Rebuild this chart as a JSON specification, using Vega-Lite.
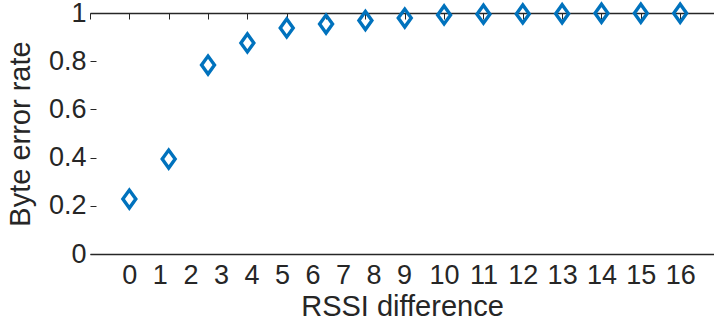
{
  "$schema": "https://vega.github.io/schema/vega-lite/v6.json",
  "autosize": {"type": "none"},
  "padding": {"left": 90, "top": 13, "right": 0, "bottom": 68},
  "width": 624,
  "height": 241,
  "background": "white",
  "config": {
    "view": {"stroke": null},
    "axis": {"grid": false, "labelFont": "Liberation Sans", "titleFont": "Liberation Sans", "labelColor": "#262626", "titleColor": "#262626", "domainColor": "#262626", "tickColor": "#262626", "titleFontWeight": "normal", "labelFontSize": 27, "titleFontSize": 29}
  },
  "data": {"values": [
    {"rssi": 1, "ber": 0.228},
    {"rssi": 2, "ber": 0.394},
    {"rssi": 3, "ber": 0.784},
    {"rssi": 4, "ber": 0.876},
    {"rssi": 5, "ber": 0.938},
    {"rssi": 6, "ber": 0.954},
    {"rssi": 7, "ber": 0.969},
    {"rssi": 8, "ber": 0.979},
    {"rssi": 9, "ber": 0.992},
    {"rssi": 10, "ber": 0.995},
    {"rssi": 11, "ber": 0.996},
    {"rssi": 12, "ber": 0.997},
    {"rssi": 13, "ber": 0.999},
    {"rssi": 14, "ber": 0.999},
    {"rssi": 15, "ber": 0.999}
  ]},
  "layer": [
    {
      "mark": {"type": "point", "opacity": 0},
      "encoding": {
        "x": {"field": "rssi", "type": "quantitative", "scale": {"domain": [0, 15.86], "nice": false, "zero": false},
              "axis": {"orient": "bottom", "title": "RSSI difference", "ticks": false, "domain": true, "domainWidth": 1.5,
                       "values": [1, 1.776, 2.552, 3.328, 4.104, 4.88, 5.656, 6.432, 7.208, 7.984, 9, 10, 11, 12, 13, 14, 15],
                       "labelExpr": "datum.value > 8.5 ? format(datum.value + 1, 'd') : format(round((datum.value - 1) / 0.776), 'd')",
                       "labelPadding": 8, "labelFlush": false, "labelOverlap": false, "titlePadding": 4}},
        "y": {"field": "ber", "type": "quantitative", "scale": {"domain": [0, 1], "nice": false},
              "axis": {"orient": "left", "title": "Byte error rate", "domain": false, "tickSize": -6, "tickWidth": 1,
                       "values": [0, 0.2, 0.4, 0.6, 0.8, 1], "format": ".1~f", "labelPadding": 10, "labelFlush": false, "titlePadding": 13}}
      }
    },
    {
      "mark": {"type": "point", "shape": "M-0.72,0L0,-1L0.72,0L0,1Z", "size": 324, "filled": false, "stroke": "#0072BD", "strokeWidth": 3.4, "opacity": 1},
      "encoding": {
        "x": {"field": "rssi", "type": "quantitative",
              "axis": {"orient": "top", "title": null, "labels": false, "tickSize": -6, "tickWidth": 1, "domainWidth": 1.5,
                       "values": [0, 1, 2, 3, 4, 5, 6, 7, 8, 9, 10, 11, 12, 13, 14, 15]}},
        "y": {"field": "ber", "type": "quantitative"}
      }
    }
  ],
  "resolve": {"axis": {"x": "independent"}}
}
